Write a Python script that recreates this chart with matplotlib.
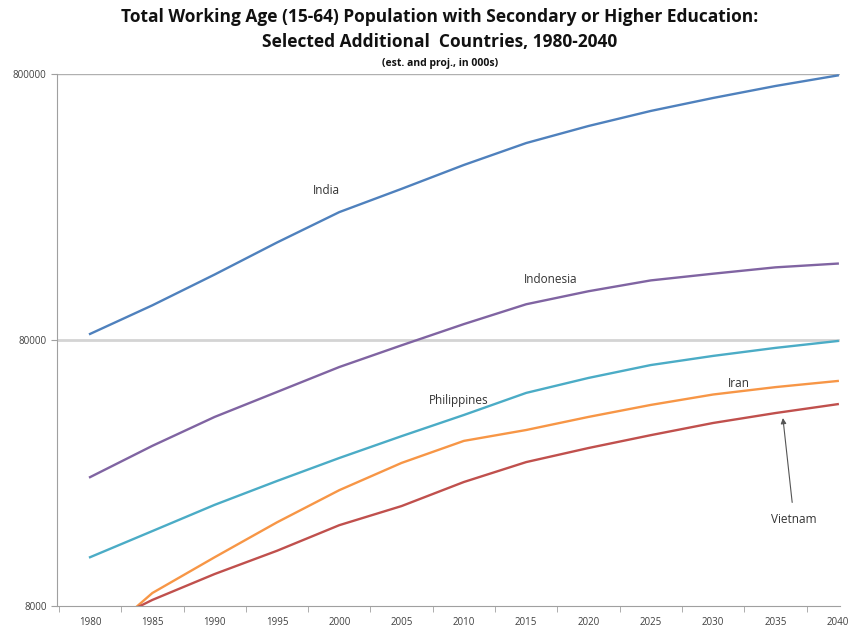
import matplotlib.pyplot as plt
from matplotlib.ticker import FixedLocator, NullLocator, FixedFormatter

plt.rcParams['font.family'] = ['Liberation Sans Narrow', 'Open Sans', 'DejaVu Sans']

years = [1980, 1985, 1990, 1995, 2000, 2005, 2010, 2015, 2020, 2025, 2030, 2035, 2040]

# working age population with secondary or higher education, 000s
india = [84300, 108000, 141000, 186000, 242000, 296000, 364000, 440000, 510000, 581000, 650000, 721000, 790000]
indonesia = [24400, 32000, 41100, 51000, 63300, 76400, 91800, 109000, 122000, 134000, 142000, 150000, 155000]
philippines = [12200, 15300, 19200, 23600, 28800, 34800, 41800, 50600, 57600, 64400, 69700, 74700, 79300]
iran = [5600, 8950, 12200, 16500, 21800, 27600, 33400, 36700, 41100, 45600, 49900, 53200, 56100]
vietnam = [6450, 8430, 10550, 12900, 16100, 19000, 23400, 27800, 31400, 35100, 39000, 42500, 45900]

fig = plt.figure(figsize=(8.68, 6.34), dpi=100)
ax = fig.add_axes([0.0657, 0.0442, 0.9023, 0.8391])

ax.plot(years, india, color='#4F81BD', lw=1.7)
ax.plot(years, indonesia, color='#8064A2', lw=1.7)
ax.plot(years, philippines, color='#4BACC6', lw=1.7)
ax.plot(years, iran, color='#F79646', lw=1.7)
ax.plot(years, vietnam, color='#C0504D', lw=1.7)

ax.set_yscale('log')
ax.set_ylim(8000, 800000)
ax.set_xlim(1977.35, 2040.2)

ax.yaxis.set_major_locator(FixedLocator([8000, 80000, 800000]))
ax.yaxis.set_major_formatter(FixedFormatter(['8000', '80000', '800000']))
ax.yaxis.set_minor_locator(NullLocator())
ax.set_xticks(years)
ax.set_xticklabels([str(y) for y in years])
ax.xaxis.set_minor_locator(FixedLocator([1977.5 + 5 * i for i in range(13)]))
ax.tick_params(axis='x', which='major', length=0, labelsize=7, pad=8, colors='#404040')
ax.tick_params(axis='x', which='minor', length=4, color='#a0a0a0')
ax.tick_params(axis='y', length=4, color='#a0a0a0', labelsize=7, colors='#404040')

ax.axhline(80000, color='#d4d4d4', lw=2, zorder=0)
ax.axhline(800000, color='#b0b0b0', lw=1, zorder=0)

for s in ['top', 'right']:
    ax.spines[s].set_visible(False)
ax.spines['left'].set_color('#a0a0a0')
ax.spines['bottom'].set_color('#a0a0a0')

lab = dict(fontsize=8.5, color='#333333', ha='center', va='center')
ax.text(1999.0, 293000, 'India', **lab)
ax.text(2017.0, 135000, 'Indonesia', **lab)
ax.text(2009.6, 47500, 'Philippines', **lab)
ax.text(2032.1, 55100, 'Iran', **lab)
ax.annotate('Vietnam', xy=(2035.6, 40700), xytext=(2036.5, 16840),
            fontsize=8.5, color='#333333', ha='center', va='center',
            arrowprops=dict(arrowstyle='-|>', color='#555555', lw=0.8,
                            mutation_scale=8, shrinkA=6, shrinkB=0))

fig.text(0.507, 0.973, 'Total Working Age (15-64) Population with Secondary or Higher Education:',
         ha='center', va='center', fontsize=12.5, fontweight='bold', color='#111111')
fig.text(0.507, 0.934, 'Selected Additional  Countries, 1980-2040',
         ha='center', va='center', fontsize=12.5, fontweight='bold', color='#111111')
fig.text(0.507, 0.900, '(est. and proj., in 000s)',
         ha='center', va='center', fontsize=7.5, fontweight='bold', color='#111111')

fig.savefig('out.png', dpi=100)
